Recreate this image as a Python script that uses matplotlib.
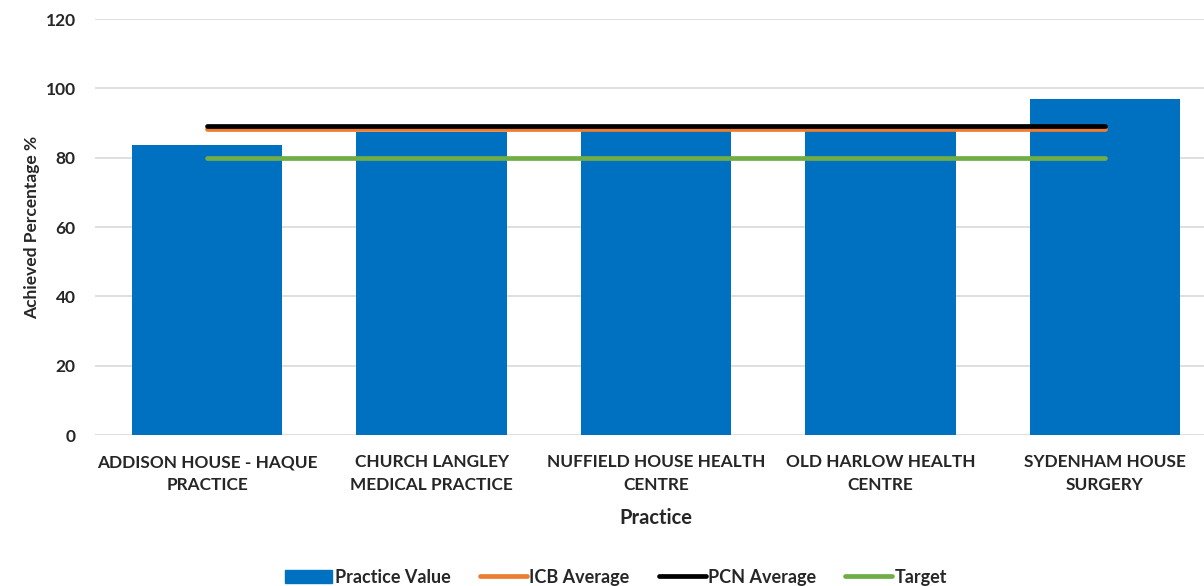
import matplotlib
matplotlib.use('Agg')
import matplotlib.pyplot as plt
import matplotlib.patches as mpatches
from matplotlib.lines import Line2D
import numpy as np

# ── Data ──
practices = ['ADDISON HOUSE - HAQUE\nPRACTICE', 'CHURCH LANGLEY\nMEDICAL PRACTICE',
             'NUFFIELD HOUSE HEALTH\nCENTRE', 'OLD HARLOW HEALTH\nCENTRE',
             'SYDENHAM HOUSE\nSURGERY']
practice_value = [83.6, 87.4, 88.0, 87.9, 96.9]
icb_average = 88.3
pcn_average = 89.1
target = 80.0
yticks = [0, 20, 40, 60, 80, 100, 120]

# ── Colours ──
BAR_COLOR = '#0070C0'
ICB_COLOR = '#ED7D31'
PCN_COLOR = '#000000'
TARGET_COLOR = '#70AD47'
GRID_COLOR = '#D9D9D9'
TEXT_COLOR = '#262626'

plt.rcParams['font.family'] = ['Lato', 'DejaVu Sans']
plt.rcParams['font.weight'] = 'bold'

fig = plt.figure(figsize=(12.04, 5.86), dpi=100)
ax = fig.add_axes([95 / 1204, 151 / 586, 1122 / 1204, 416 / 586])

x = np.arange(len(practices))
ax.bar(x, practice_value, width=0.67, color=BAR_COLOR, zorder=2)

ax.plot([x[0], x[-1]], [icb_average] * 2, color=ICB_COLOR, lw=3.4,
        solid_capstyle='round', zorder=3)
ax.plot([x[0], x[-1]], [pcn_average] * 2, color=PCN_COLOR, lw=3.4,
        solid_capstyle='round', zorder=4)
ax.plot([x[0], x[-1]], [target] * 2, color=TARGET_COLOR, lw=3.4,
        solid_capstyle='round', zorder=3)

ax.set_xlim(-0.5, len(practices) - 0.5)
ax.set_ylim(0, 120)
ax.set_yticks(yticks)
ax.set_xticks(x)
ax.set_xticklabels(practices, fontsize=12.4, fontweight='bold', color=TEXT_COLOR,
                   linespacing=1.5)
ax.tick_params(axis='y', labelsize=12.5, colors=TEXT_COLOR, length=0, pad=14)
ax.tick_params(axis='x', length=0, pad=14)
ax.grid(axis='y', color=GRID_COLOR, lw=1.2)
ax.set_axisbelow(True)
for spine in ax.spines.values():
    spine.set_visible(False)

ax.set_ylabel('Achieved Percentage %', fontsize=12.5, fontweight='bold',
              color=TEXT_COLOR, labelpad=4)
ax.set_xlabel('Practice', fontsize=14.5, fontweight='bold', color=TEXT_COLOR, labelpad=11)

handles = [
    mpatches.Patch(color=BAR_COLOR, label='Practice Value'),
    Line2D([], [], color=ICB_COLOR, lw=3.4, solid_capstyle='round', label='ICB Average'),
    Line2D([], [], color=PCN_COLOR, lw=3.4, solid_capstyle='round', label='PCN Average'),
    Line2D([], [], color=TARGET_COLOR, lw=3.4, solid_capstyle='round', label='Target'),
]
leg = fig.legend(handles=handles, loc='center', bbox_to_anchor=(0.512, 0.015), ncol=4,
                 frameon=False, fontsize=13, handlelength=2.6, handletextpad=0.15,
                 columnspacing=1.6, handleheight=0.7)
for t in leg.get_texts():
    t.set_color(TEXT_COLOR)

fig.savefig('out.png', dpi=100)
